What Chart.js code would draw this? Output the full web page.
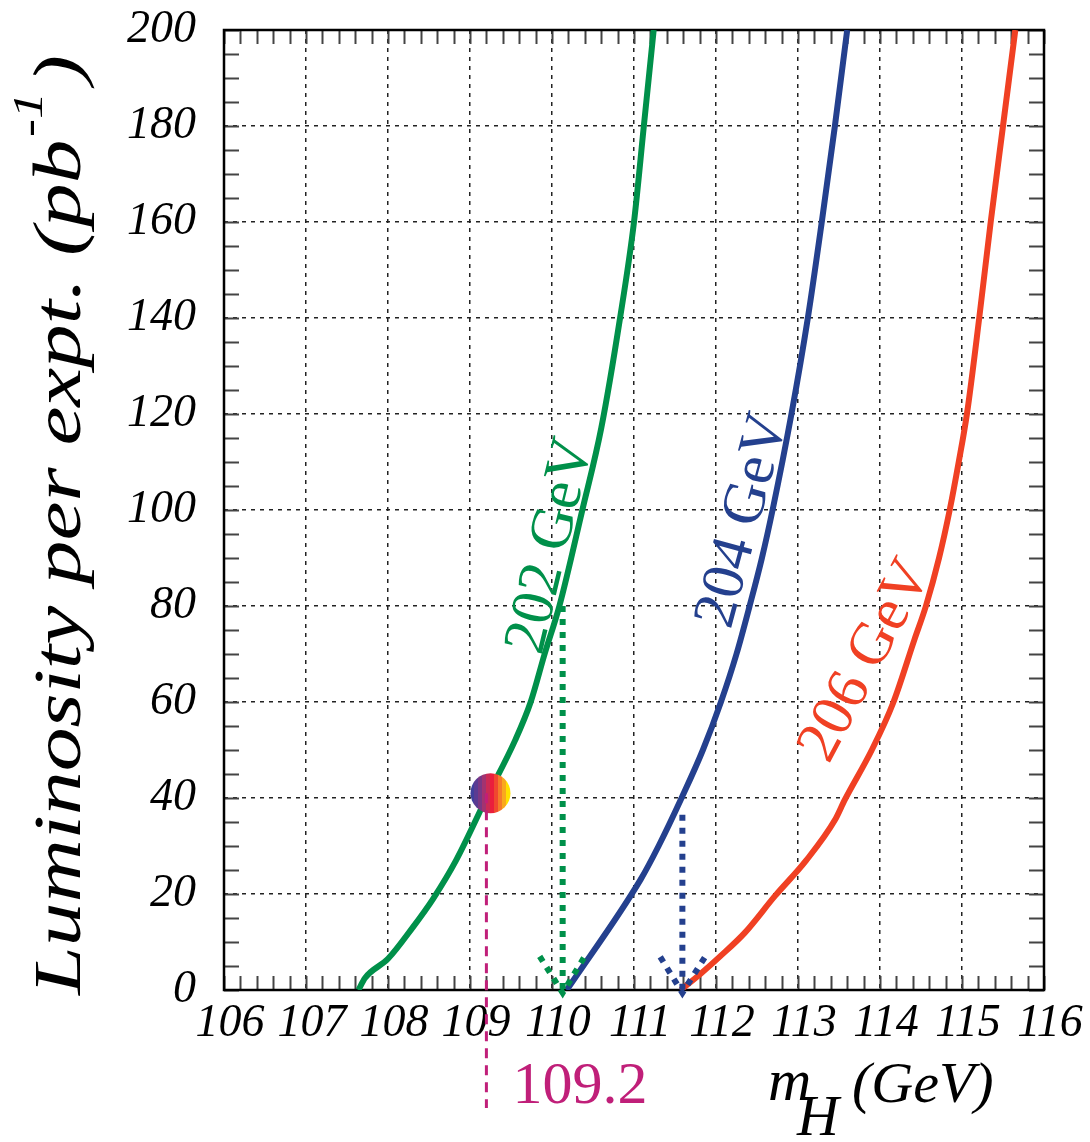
<!DOCTYPE html>
<html>
<head>
<meta charset="utf-8">
<script src="https://cdn.jsdelivr.net/npm/chart.js@4.4.1/dist/chart.umd.min.js"></script>
<style>
html, body { margin: 0; padding: 0; background: #fff; }
</style>
</head>
<body>
<canvas id="chart" width="1090" height="1142"></canvas>
<script>
// curves: luminosity needed vs Higgs mass, per centre-of-mass energy
var mass202 = [107.64, 107.72, 108.0, 108.3, 108.55, 108.83, 109.2, 109.55, 109.74, 109.91, 110.09, 110.37, 110.6, 110.83, 111.0, 111.12, 111.24];
var lumi202 = [0, 2.5, 6.5, 13, 19, 27, 40, 52, 60, 70, 80, 100, 117, 140, 160, 180, 200];

var mass204 = [110.18, 111.08, 111.3, 111.58, 111.84, 112.06, 112.25, 112.41, 112.56, 112.69, 112.92, 113.12, 113.29, 113.45, 113.6];
var lumi204 = [0, 23, 30, 40, 50, 60, 70, 80, 90, 100, 120, 140, 160, 180, 200];

var mass206 = [111.57, 111.82, 112.05, 112.35, 112.72, 113.1, 113.45, 113.57, 113.9, 114.16, 114.42, 114.56, 114.72, 114.85, 114.96, 115.06, 115.21, 115.35, 115.5, 115.65];
var lumi206 = [0, 3.5, 7, 11.9, 19.6, 27, 35.4, 39.6, 50, 59.8, 73, 80, 90, 100, 110, 120, 140, 160, 180, 200];

// dotted drop lines and arrow heads
var drop202Mass = [110.13, 110.13];
var drop202Lumi = [80, 0];
var head202Mass = [109.85, 110.13, 110.41];
var head202Lumi = [7, -0.6, 7.3];
var drop204Mass = [111.59, 111.59];
var drop204Lumi = [36.5, 0];
var head204Mass = [111.32, 111.59, 111.87];
var head204Lumi = [6.9, -0.6, 7];

// the marked point and its dashed line down to the value
var markMass = 109.2;
var markLumi = [41, -24.6];
var dotPoint = { x: 109.25, y: 41 };
var markText = '109.2';

// labels written along the curves
var curveLabels = ['202 GeV', '204 GeV', '206 GeV'];
var curveLabelMass = [110.18, 112.52, 114.0];
var curveLabelLumi = [91.7, 96.9, 67];
var curveLabelAngle = [-76.5, -75, -62];

var massMin = 106, massMax = 116;
var lumiMin = 0, lumiMax = 200;

var green = '#00904a';
var blue = '#24408e';
var red = '#f04023';
var magenta = '#c01f79';
var stripes = ['#3f3f9c', '#5a3b92', '#7a3784', '#a23370', '#cc2a55', '#ea1f3c', '#f0482f', '#f57a2a', '#f9a81e', '#ffe100'];

function pts(xs, ys) {
    var out = [];
    for (var i = 0; i < xs.length; i++) out.push({ x: xs[i], y: ys[i] });
    return out;
}
function isWhole(v, step) {
    var r = v / step;
    return Math.abs(r - Math.round(r)) < 1e-6;
}

var serif = '"Liberation Serif", "Times New Roman", serif';

// inward ticks on all four sides plus the black frame
var frameTicks = {
    id: 'frameTicks',
    beforeDatasetsDraw: function (chart) {
        var ctx = chart.ctx, a = chart.chartArea;
        var sx = chart.scales.x, sy = chart.scales.y;
        ctx.save();
        ctx.strokeStyle = '#444';
        ctx.lineWidth = 2;
        ctx.beginPath();
        sx.ticks.forEach(function (t) {
            var px = Math.round(sx.getPixelForValue(t.value)) + 0.5;
            ctx.moveTo(px, a.bottom); ctx.lineTo(px, a.bottom - 14);
            ctx.moveTo(px, a.top); ctx.lineTo(px, a.top + 14);
        });
        sy.ticks.forEach(function (t) {
            var py = Math.round(sy.getPixelForValue(t.value)) + 0.5;
            ctx.moveTo(a.left, py); ctx.lineTo(a.left + 15, py);
            ctx.moveTo(a.right, py); ctx.lineTo(a.right - 15, py);
        });
        ctx.stroke();
        ctx.strokeStyle = '#000';
        ctx.lineWidth = 2.5;
        ctx.strokeRect(a.left, a.top, a.right - a.left, a.bottom - a.top);
        ctx.restore();
    }
};

var textLayer = {
    id: 'textLayer',
    afterDraw: function (chart) {
        var ctx = chart.ctx;
        var sx = chart.scales.x, sy = chart.scales.y;
        var colors = [green, blue, red];
        ctx.save();
        ctx.textBaseline = 'alphabetic';
        // curve labels
        for (var i = 0; i < curveLabels.length; i++) {
            ctx.save();
            ctx.translate(sx.getPixelForValue(curveLabelMass[i]), sy.getPixelForValue(curveLabelLumi[i]));
            ctx.rotate(curveLabelAngle[i] * Math.PI / 180);
            ctx.fillStyle = colors[i];
            ctx.font = '60px ' + serif;
            ctx.textAlign = 'center';
            ctx.fillText(curveLabels[i], 0, 0);
            ctx.restore();
        }
        // marked value under the axis
        ctx.fillStyle = magenta;
        ctx.font = '60px ' + serif;
        ctx.textAlign = 'left';
        ctx.fillText(markText, sx.getPixelForValue(markMass) + 26, 1103);

        // x title: m_H (GeV)
        ctx.fillStyle = '#000';
        ctx.font = 'italic 60px ' + serif;
        ctx.fillText('m', 768, 1100);
        ctx.font = 'italic 58px ' + serif;
        ctx.fillText('H', 797, 1135);
        ctx.font = 'italic 58px ' + serif;
        ctx.fillText('(GeV)', 852, 1102);

        // y title, stretched along its length like the original
        ctx.save();
        ctx.translate(80, 995);
        ctx.rotate(-Math.PI / 2);
        ctx.font = 'italic 68px ' + serif;
        var main = 'Luminosity per expt. (pb';
        var w = ctx.measureText(main).width;
        ctx.font = 'italic 42px ' + serif;
        var w2 = ctx.measureText('-1').width;
        ctx.font = 'italic 68px ' + serif;
        var w3 = ctx.measureText(')').width;
        var total = w + w2 + 8 + w3;
        ctx.scale(940 / total, 1);
        ctx.fillText(main, 0, 0);
        ctx.font = 'italic 42px ' + serif;
        ctx.fillText('-1', w + 2, -38);
        ctx.font = 'italic 68px ' + serif;
        ctx.fillText(')', w + w2 + 8, 0);
        ctx.restore();
        ctx.restore();
    }
};

function stripeFill(c) {
    var chart = c.chart;
    var sx = chart.scales && chart.scales.x;
    var cx = (sx && c.raw) ? sx.getPixelForValue(c.raw.x) : NaN;
    if (!isFinite(cx)) return stripes[5];
    var r = 20;
    var g = chart.ctx.createLinearGradient(cx - r, 0, cx + r, 0);
    for (var i = 0; i < stripes.length; i++) {
        g.addColorStop(i / stripes.length, stripes[i]);
        g.addColorStop((i + 1) / stripes.length - 0.0001, stripes[i]);
    }
    return g;
}

function curve(xs, ys, color, order) {
    return {
        data: pts(xs, ys), borderColor: color, borderWidth: 6, pointRadius: 0,
        cubicInterpolationMode: 'monotone', order: order
    };
}
function dotted(xs, ys, color, order) {
    return {
        data: pts(xs, ys), borderColor: color, borderWidth: 6, pointRadius: 0,
        borderDash: [6, 7], borderCapStyle: 'butt', tension: 0, clip: false, order: order
    };
}

var ctx = document.getElementById('chart').getContext('2d');
var chart = new Chart(ctx, {
    type: 'line',
    data: {
        datasets: [
            {
                data: [{ x: markMass, y: markLumi[0] }, { x: markMass, y: markLumi[1] }],
                borderColor: magenta, borderWidth: 3, borderDash: [10, 7], pointRadius: 0,
                tension: 0, clip: false, order: 1
            },
            {
                data: [dotPoint], showLine: false, pointRadius: 20, pointHoverRadius: 20,
                pointBorderWidth: 0, pointBackgroundColor: stripeFill,
                borderColor: 'rgba(0,0,0,0)', order: 2
            },
            dotted(drop202Mass, drop202Lumi, green, 3),
            dotted(head202Mass, head202Lumi, green, 3),
            dotted(drop204Mass, drop204Lumi, blue, 3),
            dotted(head204Mass, head204Lumi, blue, 3),
            curve(mass202, lumi202, green, 4),
            curve(mass204, lumi204, blue, 4),
            curve(mass206, lumi206, red, 4)
        ]
    },
    options: {
        responsive: false,
        animation: false,
        devicePixelRatio: 1,
        layout: { padding: { top: 30, right: 46, left: 0, bottom: 0 } },
        plugins: { legend: { display: false }, tooltip: { enabled: false } },
        scales: {
            x: {
                type: 'linear', min: massMin, max: massMax,
                afterFit: function (s) { s.height = 152; s.paddingLeft = 0; s.paddingRight = 0; },
                border: { display: false, dash: [4, 5] },
                grid: {
                    drawTicks: false, lineWidth: 1.5,
                    color: function (c) { return c.tick && isWhole(c.tick.value, 1) ? '#222' : 'rgba(0,0,0,0)'; }
                },
                ticks: {
                    stepSize: 0.2, autoSkip: false, maxRotation: 0, padding: 6, labelOffset: 6,
                    color: '#000', font: { family: serif, size: 46, style: 'italic' },
                    callback: function (v) { return isWhole(v, 1) ? String(Math.round(v)) : ''; }
                }
            },
            y: {
                type: 'linear', min: lumiMin, max: lumiMax,
                afterFit: function (s) { s.width = 224; s.paddingTop = 0; s.paddingBottom = 0; },
                border: { display: false, dash: [4, 5] },
                grid: {
                    drawTicks: false, lineWidth: 1.5,
                    color: function (c) { return c.tick && isWhole(c.tick.value, 20) ? '#222' : 'rgba(0,0,0,0)'; }
                },
                ticks: {
                    stepSize: 5, autoSkip: false, padding: 28,
                    color: '#000', font: { family: serif, size: 46, style: 'italic' },
                    callback: function (v) { return isWhole(v, 20) ? String(Math.round(v)) : ''; }
                }
            }
        }
    },
    plugins: [frameTicks, textLayer]
});
</script>
</body>
</html>
